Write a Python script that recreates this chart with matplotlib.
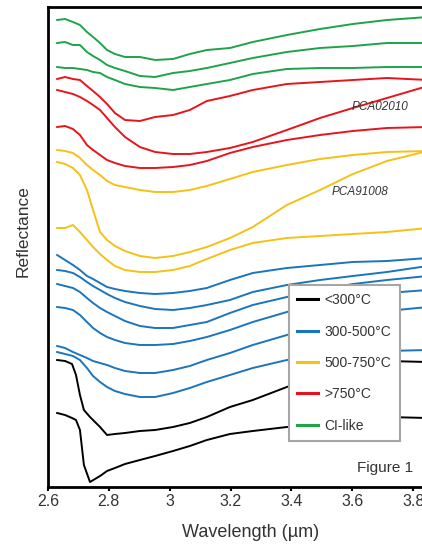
import matplotlib
matplotlib.use("Agg")
import matplotlib.pyplot as plt
from matplotlib.lines import Line2D

plt.rcParams['font.family'] = ['Liberation Sans', 'DejaVu Sans']

# wavelength grid (um) used for most spectra
wl = [2.63, 2.656, 2.682, 2.705, 2.728, 2.748, 2.771, 2.794, 2.82, 2.853, 2.902,
      2.952, 3.011, 3.066, 3.122, 3.198, 3.273, 3.385, 3.494, 3.602, 3.714, 3.848]
# finer grid for the <300C spectra (sharp 2.7 um drop)
wl_b = [2.63, 2.656, 2.679, 2.692, 2.705, 2.718, 2.738, 2.771, 2.794, 2.82, 2.853, 2.902,
        2.952, 3.011, 3.066, 3.122, 3.198, 3.273, 3.385, 3.494, 3.602, 3.714, 3.848]

# offset reflectance (arbitrary units)
green1 = [4.67, 4.68, 4.65, 4.62, 4.55, 4.50, 4.44, 4.37, 4.33, 4.30, 4.30, 4.27, 4.28, 4.33, 4.37, 4.39, 4.45, 4.52, 4.58, 4.63, 4.67, 4.70]
green2 = [4.44, 4.45, 4.42, 4.42, 4.35, 4.31, 4.27, 4.22, 4.19, 4.16, 4.11, 4.10, 4.14, 4.16, 4.19, 4.24, 4.29, 4.35, 4.39, 4.41, 4.44, 4.44]
green3 = [4.20, 4.19, 4.19, 4.18, 4.17, 4.15, 4.14, 4.10, 4.07, 4.03, 4.00, 3.99, 3.97, 4.00, 4.03, 4.07, 4.13, 4.18, 4.19, 4.19, 4.20, 4.20]
red1 = [4.08, 4.10, 4.08, 4.07, 4.01, 3.96, 3.90, 3.83, 3.74, 3.67, 3.66, 3.70, 3.72, 3.77, 3.86, 3.91, 3.97, 4.03, 4.05, 4.07, 4.09, 4.07]
red2 = [3.97, 3.95, 3.93, 3.90, 3.86, 3.82, 3.77, 3.69, 3.60, 3.50, 3.40, 3.35, 3.33, 3.33, 3.35, 3.39, 3.45, 3.57, 3.69, 3.79, 3.89, 4.01]
red3 = [3.60, 3.61, 3.58, 3.52, 3.42, 3.37, 3.32, 3.27, 3.24, 3.21, 3.19, 3.19, 3.20, 3.22, 3.26, 3.34, 3.40, 3.47, 3.52, 3.56, 3.59, 3.60]
yel1 = [3.37, 3.36, 3.34, 3.29, 3.22, 3.17, 3.12, 3.06, 3.02, 3.00, 2.97, 2.95, 2.95, 2.97, 3.01, 3.08, 3.15, 3.22, 3.28, 3.32, 3.35, 3.36]
yel2 = [3.25, 3.23, 3.19, 3.12, 2.97, 2.77, 2.55, 2.47, 2.41, 2.36, 2.31, 2.29, 2.31, 2.35, 2.40, 2.49, 2.60, 2.82, 2.97, 3.13, 3.26, 3.36]
yel3 = [2.59, 2.59, 2.62, 2.55, 2.47, 2.40, 2.33, 2.27, 2.21, 2.17, 2.15, 2.15, 2.17, 2.21, 2.28, 2.37, 2.44, 2.49, 2.51, 2.53, 2.55, 2.59]
blue1 = [2.32, 2.27, 2.22, 2.17, 2.11, 2.08, 2.04, 2.00, 1.98, 1.96, 1.94, 1.93, 1.94, 1.96, 1.99, 2.07, 2.14, 2.19, 2.22, 2.25, 2.26, 2.29]
blue2 = [2.17, 2.16, 2.14, 2.10, 2.05, 2.01, 1.97, 1.93, 1.89, 1.85, 1.81, 1.78, 1.77, 1.79, 1.82, 1.87, 1.95, 2.02, 2.07, 2.11, 2.15, 2.21]
blue3 = [2.03, 2.01, 1.99, 1.95, 1.89, 1.84, 1.79, 1.75, 1.71, 1.66, 1.61, 1.59, 1.59, 1.62, 1.65, 1.74, 1.82, 1.90, 1.97, 2.03, 2.07, 2.11]
blue4 = [1.80, 1.79, 1.77, 1.72, 1.65, 1.59, 1.54, 1.50, 1.47, 1.44, 1.42, 1.42, 1.43, 1.46, 1.50, 1.57, 1.65, 1.75, 1.84, 1.90, 1.94, 1.97]
blue5 = [1.41, 1.39, 1.35, 1.32, 1.29, 1.26, 1.24, 1.22, 1.19, 1.16, 1.14, 1.14, 1.17, 1.21, 1.27, 1.34, 1.42, 1.52, 1.62, 1.70, 1.76, 1.80]
blue6 = [1.35, 1.33, 1.31, 1.27, 1.19, 1.11, 1.05, 1.00, 0.96, 0.93, 0.90, 0.90, 0.94, 0.99, 1.05, 1.12, 1.19, 1.27, 1.31, 1.34, 1.36, 1.37]
black1 = [1.27, 1.26, 1.23, 1.12, 0.92, 0.77, 0.70, 0.60, 0.52, 0.53, 0.54, 0.56, 0.57, 0.60, 0.64, 0.70, 0.80, 0.87, 1.00, 1.12, 1.21, 1.26, 1.25]
black2 = [0.74, 0.72, 0.69, 0.67, 0.57, 0.22, 0.05, 0.11, 0.16, 0.19, 0.23, 0.27, 0.31, 0.36, 0.41, 0.47, 0.53, 0.56, 0.60, 0.63, 0.66, 0.70, 0.69]

groups = ['<300°C', '300-500°C', '500-750°C', '>750°C', 'CI-like']
colors = ['#000000', '#1b75bc', '#f5c116', '#e8141c', '#1fa34a']

fig = plt.figure(figsize=(4.22, 5.44), dpi=100)
ax = fig.add_axes([48 / 422, 57 / 544, 426 / 422, 480 / 544])

lw = 1.4
for s in [green1, green2, green3]:
    ax.plot(wl, s, color=colors[4], lw=lw)
for s in [red1, red2, red3]:
    ax.plot(wl, s, color=colors[3], lw=lw)
for s in [yel1, yel2, yel3]:
    ax.plot(wl, s, color=colors[2], lw=lw)
for s in [blue1, blue2, blue3, blue4, blue5, blue6]:
    ax.plot(wl, s, color=colors[1], lw=lw)
for s in [black1, black2]:
    ax.plot(wl_b, s, color=colors[0], lw=lw)

ax.text(3.691, 3.80, 'PCA02010', style='italic', fontsize=8.5, color='#333333',
        ha='center', va='center')
ax.text(3.625, 2.95, 'PCA91008', style='italic', fontsize=8.5, color='#333333',
        ha='center', va='center')
ax.text(3.799, 0.19, 'Figure 1', fontsize=11, color='#333333', ha='right', va='center')

ax.set_xlim(2.6, 4.0)
ax.set_ylim(0, 4.8)
ax.set_xticks([2.6, 2.8, 3.0, 3.2, 3.4, 3.6, 3.8, 4.0])
ax.set_xticklabels(['2.6', '2.8', '3', '3.2', '3.4', '3.6', '3.8', '4'])
ax.set_yticks([])
ax.tick_params(axis='x', direction='out', length=3, width=1.5, pad=2,
               labelsize=11.5, labelcolor='#333333')
for sp in ax.spines.values():
    sp.set_linewidth(2)
    sp.set_color('black')

ax.set_xlabel('Wavelength (µm)', fontsize=13, color='#333333')
ax.xaxis.set_label_coords(203 / 426, -0.077)
ax.set_ylabel('Reflectance', fontsize=12.5, color='#333333')
ax.yaxis.set_label_coords(-0.041, 0.533)

handles = [Line2D([], [], color=c, lw=2.2) for c in colors]
leg = ax.legend(handles, groups, loc='upper left', bbox_to_anchor=(0.566, 0.421),
                fontsize=10, frameon=True, fancybox=False, framealpha=1,
                edgecolor='#a6a6a6', labelspacing=1.25, handlelength=1.5,
                handletextpad=0.45, borderpad=0.6, borderaxespad=0)
leg.get_frame().set_linewidth(1.5)
for t in leg.get_texts():
    t.set_color('#333333')

fig.savefig('out.png', dpi=100)
